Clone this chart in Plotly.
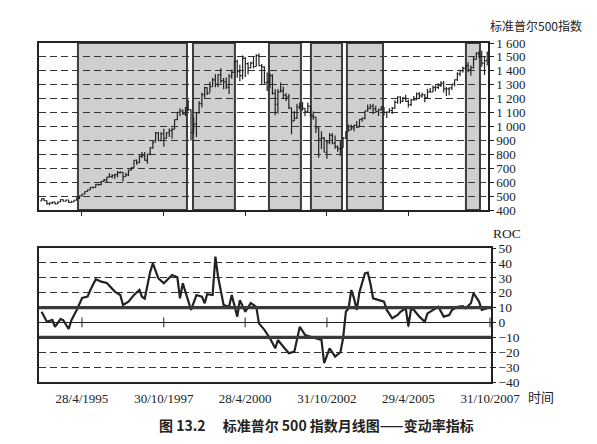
import pandas as pd
import plotly.graph_objects as go

# ---------------- data ----------------
price_start = "1994-01-31"
closes = [
    482, 467, 446, 451, 457, 444, 458, 475, 463, 472, 454, 459,
    470, 487, 501, 515, 533, 545, 562, 562, 584, 582, 605, 616,
    636, 640, 646, 654, 669, 671, 640, 652, 687, 705, 757, 741,
    786, 791, 757, 801, 848, 885, 954, 899, 947, 915, 955, 970,
    980, 1049, 1102, 1112, 1091, 1134, 1121, 957, 1017, 1099, 1164, 1229,
    1280, 1238, 1286, 1335, 1302, 1373, 1329, 1320, 1283, 1363, 1389, 1469,
    1394, 1366, 1490, 1452, 1421, 1455, 1431, 1510, 1437, 1429, 1315, 1320,
    1366, 1240, 1160, 1249, 1256, 1224, 1211, 1134, 1041, 1060, 1139, 1148,
    1130, 1107, 1147, 1077, 1067, 990, 912, 916, 815, 886, 936, 880,
    856, 841, 848, 917, 964, 975, 990, 1008, 996, 1051, 1058, 1112,
    1131, 1145, 1126, 1107, 1121, 1141, 1102, 1104, 1115, 1130, 1174, 1212,
    1181, 1204, 1181, 1157, 1192, 1191, 1234, 1220, 1229, 1207, 1249, 1248,
    1280, 1281, 1295, 1311, 1270, 1270, 1277, 1304, 1336, 1378, 1401, 1418,
    1438, 1407, 1421, 1482, 1525, 1503, 1455, 1474, 1527,
]
highs = [
    482, 482, 468, 453, 458, 460, 459, 477, 476, 475, 474, 466,
    474, 489, 503, 516, 534, 547, 565, 565, 586, 587, 608, 622,
    637, 664, 659, 660, 681, 679, 673, 668, 690, 706, 757, 762,
    794, 817, 817, 805, 849, 896, 960, 961, 960, 983, 960, 986,
    992, 1051, 1105, 1131, 1122, 1140, 1190, 1122, 1066, 1102, 1182, 1245,
    1285, 1281, 1321, 1348, 1375, 1376, 1419, 1349, 1352, 1375, 1408, 1473,
    1479, 1444, 1510, 1500, 1462, 1465, 1500, 1520, 1525, 1450, 1433, 1388,
    1384, 1376, 1268, 1269, 1316, 1287, 1239, 1234, 1134, 1111, 1163, 1173,
    1176, 1131, 1173, 1147, 1107, 1068, 994, 966, 925, 901, 954, 954,
    935, 864, 896, 924, 966, 1015, 1015, 1012, 1040, 1054, 1064, 1112,
    1158, 1159, 1163, 1150, 1128, 1146, 1141, 1108, 1131, 1142, 1188, 1217,
    1218, 1212, 1229, 1192, 1200, 1219, 1245, 1246, 1243, 1233, 1270, 1276,
    1295, 1297, 1310, 1326, 1327, 1284, 1281, 1306, 1339, 1390, 1407, 1431,
    1441, 1461, 1439, 1499, 1534, 1541, 1545, 1504, 1539,
]
lows = [
    465, 465, 438, 435, 443, 441, 444, 457, 461, 461, 450, 452,
    459, 468, 479, 500, 512, 532, 543, 555, 562, 574, 580, 602,
    597, 632, 628, 622, 636, 663, 605, 639, 645, 683, 704, 725,
    737, 772, 756, 733, 794, 840, 891, 898, 896, 855, 914, 925,
    912, 980, 1047, 1074, 1085, 1075, 1111, 900, 944, 923, 1094, 1136,
    1205, 1226, 1245, 1288, 1282, 1282, 1311, 1268, 1269, 1234, 1343, 1387,
    1350, 1326, 1339, 1356, 1373, 1418, 1417, 1431, 1436, 1305, 1308, 1255,
    1275, 1229, 1081, 1091, 1245, 1203, 1183, 1125, 945, 1038, 1054, 1123,
    1114, 1074, 1104, 1064, 1048, 953, 776, 838, 815, 768, 873, 872,
    840, 818, 789, 847, 913, 967, 974, 966, 990, 997, 1035, 1050,
    1106, 1123, 1088, 1107, 1076, 1114, 1079, 1061, 1097, 1090, 1127, 1163,
    1164, 1177, 1178, 1137, 1147, 1188, 1192, 1201, 1206, 1174, 1201, 1243,
    1248, 1253, 1269, 1283, 1245, 1219, 1225, 1262, 1290, 1327, 1361, 1388,
    1403, 1390, 1364, 1416, 1481, 1492, 1429, 1370, 1439,
]
first_open = 466

roc_months = [
    "1994-01", "1994-03", "1994-05", "1994-06", "1994-08", "1994-09", "1994-11", "1994-12",
    "1995-02", "1995-04", "1995-06", "1995-07", "1995-09", "1995-11", "1996-01", "1996-04",
    "1996-06", "1996-07", "1996-09", "1996-11", "1997-01", "1997-02", "1997-03", "1997-05",
    "1997-06", "1997-08", "1997-10", "1997-12", "1998-01", "1998-03", "1998-04", "1998-05",
    "1998-07", "1998-08", "1998-10", "1998-12", "1999-01", "1999-02", "1999-04", "1999-05",
    "1999-06", "1999-08", "1999-10", "1999-11", "2000-01", "2000-02", "2000-04", "2000-06",
    "2000-08", "2000-09", "2000-11", "2001-01", "2001-03", "2001-04", "2001-06", "2001-08",
    "2001-10", "2001-11", "2001-12", "2002-02", "2002-04", "2002-06", "2002-08", "2002-09",
    "2002-11", "2003-01", "2003-03", "2003-04", "2003-05", "2003-06", "2003-07", "2003-08",
    "2003-09", "2003-10", "2003-12", "2004-01", "2004-02", "2004-03", "2004-05", "2004-07",
    "2004-08", "2004-10", "2004-12", "2005-01", "2005-03", "2005-04", "2005-05", "2005-06",
    "2005-08", "2005-10", "2005-11", "2006-01", "2006-03", "2006-05", "2006-07", "2006-08",
    "2006-10", "2006-12", "2007-01", "2007-03", "2007-04", "2007-06", "2007-07", "2007-09",
]
roc_values = [
    7.2, 0.5, 1.7, -3.0, 2.3, 1.5, -4.4, 1.5,
    8.4, 16.4, 17.3, 21.8, 29.0, 27.4, 26.5, 20.7,
    18.4, 11.7, 14.0, 18.4, 21.8, 17.3, 16.0, 34.0,
    39.7, 29.6, 26.3, 29.6, 31.9, 30.3, 16.2, 26.3,
    15.0, 8.4, 18.4, 17.3, 12.9, 19.0, 18.4, 44.2,
    30.7, 11.7, 10.5, 18.4, 3.9, 15.0, 7.2, 13.0,
    10.5, -0.6, -5.0, -10.6, -17.4, -11.8, -16.3, -20.7,
    -19.6, -11.8, -2.9, -8.4, -9.6, -10.6, -11.8, -27.4,
    -17.4, -23.0, -20.0, -10.6, 7.2, 9.5, 21.8, 16.0,
    8.4, 20.7, 33.0, 33.5, 26.3, 16.2, 15.0, 14.0,
    8.4, 2.8, 5.0, 7.2, 9.5, -2.4, 9.5, 8.4,
    3.9, 0.5, 6.1, 8.4, 10.5, 3.9, 5.0, 8.4,
    10.5, 11.0, 9.5, 12.9, 19.6, 14.0, 8.4, 9.5,
]
roc_thresholds = [10, -10]

signal_periods = [
    ("1995-03-14", "1998-07-17"),
    ("1998-09-22", "2000-01-05"),
    ("2001-01-20", "2002-01-13"),
    ("2002-05-05", "2003-04-18"),
    ("2003-06-12", "2004-07-20"),
    ("2007-02-04", "2007-07-11"),
]

tick_dates = ["1995-04-28", "1997-10-30", "2000-04-28", "2002-10-31", "2005-04-29", "2007-10-31"]
tick_labels = ["28/4/1995", "30/10/1997", "28/4/2000", "31/10/2002", "29/4/2005", "31/10/2007"]

price_ticks = [400, 500, 600, 700, 800, 900, 1000, 1100, 1200, 1300, 1400, 1500, 1600]
price_tick_text = ["400", "500", "600", "700", "800", "900", "1 000", "1 100", "1 200",
                   "1 300", "1 400", "1 500", "1 600"]
roc_ticks = [50, 40, 30, 20, 10, 0, -10, -20, -30, -40]
roc_tick_text = ["50", "40", "30", "20", "10", "0", "\u221210", "\u221220", "\u221230", "\u221240"]

# ---------------- build ----------------
dates = pd.date_range(price_start, periods=len(closes), freq="ME")
opens = [first_open] + closes[:-1]
roc_dates = pd.to_datetime(roc_months) + pd.offsets.MonthEnd(0)

W, H = 597, 444
SERIF = "Liberation Serif"
CJK = "Noto Sans CJK SC"
INK = "#222222"

fig = go.Figure()

fig.add_trace(go.Ohlc(
    x=dates, open=opens, high=highs, low=lows, close=closes,
    increasing=dict(line=dict(color=INK, width=1.2)),
    decreasing=dict(line=dict(color=INK, width=1.2)),
    tickwidth=0.5, xaxis="x", yaxis="y", showlegend=False, hoverinfo="skip",
))

fig.add_trace(go.Scatter(
    x=roc_dates, y=roc_values, mode="lines",
    line=dict(color=INK, width=2.2), xaxis="x2", yaxis="y2", showlegend=False,
))

# tick marks on ROC zero line
fig.add_trace(go.Scatter(
    x=pd.to_datetime(tick_dates), y=[0] * len(tick_dates), mode="markers",
    marker=dict(symbol="line-ns-open", size=7, color=INK, line=dict(color=INK, width=1)),
    xaxis="x2", yaxis="y2", showlegend=False, hoverinfo="skip",
))

x_dom_top = [39 / W, 488 / W]
x_dom_bot = [39 / W, 491 / W]
y_dom_top = [1 - 210 / H, 1 - 43 / H]
y_dom_bot = [1 - 382 / H, 1 - 248 / H]

grid = dict(showgrid=True, gridcolor="#333333", gridwidth=1.3, griddash="7px,4px")

fig.update_layout(
    width=W, height=H,
    margin=dict(l=0, r=0, t=0, b=0),
    paper_bgcolor="white", plot_bgcolor="white",
    font=dict(family=SERIF, size=13, color=INK),
    xaxis=dict(
        domain=x_dom_top, anchor="y", type="date",
        range=["1994-01-02", "2007-10-09"],
        rangeslider=dict(visible=False),
        tickvals=pd.to_datetime(tick_dates), ticktext=[""] * len(tick_dates),
        ticks="outside", ticklen=4, tickcolor=INK, tickwidth=1,
        showgrid=False, showline=True, linecolor=INK, linewidth=1.5, mirror=True,
        automargin=False,
    ),
    yaxis=dict(
        domain=y_dom_top, anchor="x", side="right", range=[400, 1600],
        tickvals=price_ticks, ticktext=price_tick_text,
        ticks="outside", ticklen=4, tickcolor=INK, tickwidth=1,
        showline=True, linecolor=INK, linewidth=1.5, mirror=True,
        zeroline=False, automargin=False, tickfont=dict(family=SERIF, size=13, color=INK),
        **grid,
    ),
    xaxis2=dict(
        domain=x_dom_bot, anchor="y2", type="date",
        range=["1994-01-02", "2007-11-11"],
        tickvals=pd.to_datetime(tick_dates), ticktext=tick_labels,
        ticks="", ticklabelstandoff=4,
        showgrid=False, showline=True, linecolor=INK, linewidth=1.5, mirror=True,
        automargin=False, tickfont=dict(family=SERIF, size=13, color=INK),
    ),
    yaxis2=dict(
        domain=y_dom_bot, anchor="x2", side="right", range=[-40, 50],
        tickvals=roc_ticks, ticktext=roc_tick_text,
        ticks="outside", ticklen=3, tickcolor=INK, tickwidth=1,
        showline=True, linecolor=INK, linewidth=1.5, mirror=True,
        zeroline=True, zerolinecolor=INK, zerolinewidth=1.2,
        automargin=False, tickfont=dict(family=SERIF, size=13.5, color=INK),
        **grid,
    ),
)

shapes = []
for d0, d1 in signal_periods:
    shapes.append(dict(
        type="rect", xref="x", yref="y domain", x0=d0, x1=d1, y0=0, y1=1,
        fillcolor="#cfcfcf", line=dict(color="#3c3c3c", width=2), layer="below",
    ))
for t in roc_thresholds:
    shapes.append(dict(
        type="line", xref="x2 domain", yref="y2", x0=0, x1=1, y0=t, y1=t,
        line=dict(color="#3a3a3a", width=3.2), layer="above",
    ))
fig.update_layout(shapes=shapes)

fig.add_annotation(text="标准普尔500指数", xref="paper", yref="paper",
                   x=488 / W, y=1 - 26 / H, xanchor="left", yanchor="middle",
                   showarrow=False, font=dict(family=CJK, size=12, color=INK))
fig.add_annotation(text="ROC", xref="paper", yref="paper",
                   x=491 / W, y=1 - 234 / H, xanchor="left", yanchor="middle",
                   showarrow=False, font=dict(family=SERIF, size=13.5, color=INK))
fig.add_annotation(text="时间", xref="paper", yref="paper",
                   x=526 / W, y=1 - 396 / H, xanchor="left", yanchor="middle",
                   showarrow=False, font=dict(family=CJK, size=13, color=INK))
fig.add_annotation(text="<b>图 13.2　 标准普尔 500 指数月线图——变动率指标</b>",
                   xref="paper", yref="paper",
                   x=316 / W, y=1 - 425 / H, xanchor="center", yanchor="middle",
                   showarrow=False, font=dict(family=CJK, size=14, color=INK))

fig.write_html("out.html", post_script="document.body.style.margin='0';",
               config={"displayModeBar": False})
